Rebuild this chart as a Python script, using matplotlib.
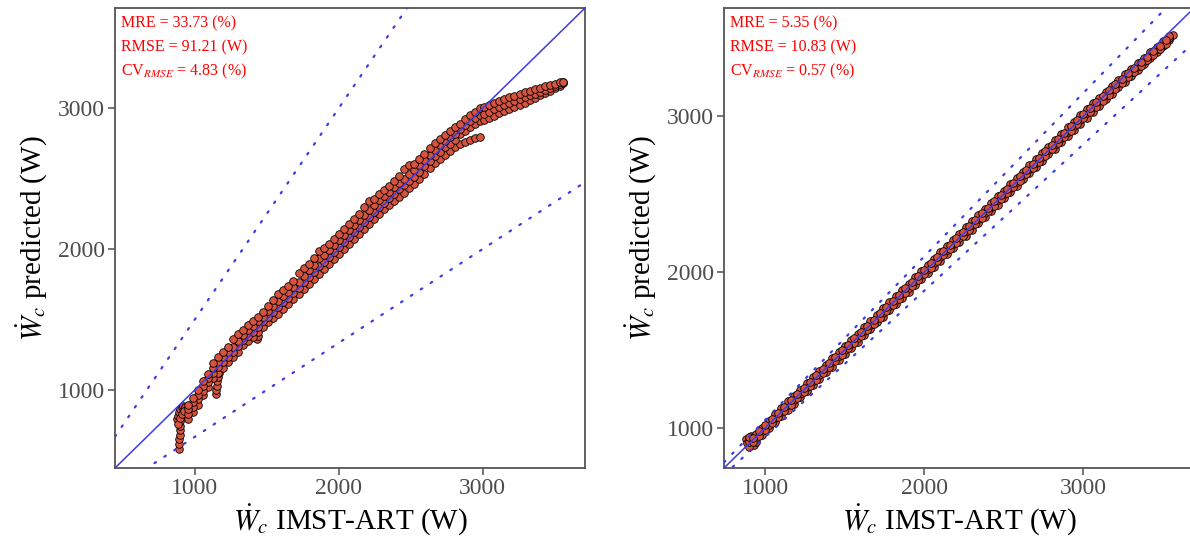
import matplotlib
matplotlib.use('Agg')
import matplotlib.pyplot as plt
import numpy as np

plt.rcParams['font.family'] = ['Liberation Serif', 'DejaVu Serif']
plt.rcParams['mathtext.fontset'] = 'stix'

# ---------------- data: left panel (model A) ----------------
left_x = [950, 985, 1020, 1055, 1090, 1125, 1160, 1195, 1230, 1265, 1300, 1335, 1370, 1405, 1440,
          1475, 1510, 1545, 1580, 1615, 1650, 1685, 1720, 1755, 1790, 1825, 1860, 1895, 1930, 1965,
          2000, 2035, 2070, 2105, 2140, 2175, 2210, 2245, 2280, 2315, 2350, 2385, 2420, 2455, 2490,
          2525, 2560, 2595, 2630, 2665, 2700, 2735, 2770, 2805, 2840, 2875, 2910, 2945, 2980]
left_pred_a = [790, 840, 895, 960, 1020, 1085, 1120, 1158, 1195, 1233, 1270, 1320, 1345, 1372, 1410,
               1448, 1480, 1510, 1537, 1573, 1608, 1645, 1680, 1715, 1750, 1787, 1822, 1858, 1895, 1930,
               1965, 2002, 2037, 2072, 2107, 2143, 2178, 2214, 2250, 2280, 2310, 2340, 2372, 2400, 2432,
               2463, 2496, 2535, 2572, 2608, 2640, 2670, 2697, 2720, 2742, 2760, 2775, 2785, 2795]
left_pred_b = [828, 876, 932, 995, 1052, 1120, 1160, 1196, 1232, 1270, 1308, 1356, 1385, 1412, 1448,
               1485, 1520, 1553, 1586, 1620, 1654, 1690, 1725, 1762, 1800, 1839, 1879, 1910, 1945, 1980,
               2014, 2051, 2086, 2121, 2157, 2193, 2228, 2263, 2299, 2329, 2359, 2390, 2422, 2451, 2482,
               2513, 2546, 2585, 2622, 2658, 2690, 2720, 2746, 2770, 2815, 2840, 2862, 2885, 2905]
left_pred_c = [862, 912, 966, 1028, 1085, 1155, 1196, 1235, 1270, 1305, 1345, 1392, 1424, 1450, 1485,
               1520, 1558, 1595, 1633, 1664, 1697, 1732, 1768, 1807, 1847, 1888, 1933, 1958, 1992, 2027,
               2061, 2097, 2132, 2168, 2204, 2240, 2275, 2310, 2345, 2375, 2405, 2436, 2469, 2499, 2529,
               2560, 2593, 2632, 2669, 2705, 2737, 2766, 2792, 2816, 2850, 2880, 2905, 2930, 2950]
left_pred_d = [895, 945, 1000, 1060, 1115, 1190, 1232, 1270, 1305, 1362, 1395, 1428, 1460, 1485, 1520,
               1555, 1595, 1635, 1678, 1705, 1738, 1772, 1830, 1868, 1892, 1935, 1985, 2005, 2038, 2072,
               2106, 2142, 2177, 2213, 2249, 2300, 2338, 2355, 2390, 2420, 2450, 2482, 2515, 2568, 2595,
               2605, 2638, 2677, 2714, 2750, 2783, 2812, 2838, 2862, 2888, 2920, 2950, 2975, 2998]
# start cluster and spurs
left_start_x = [889, 890, 892, 894, 896, 898, 900, 902, 904, 906, 876, 882, 890, 898, 908, 918,
                928, 938, 946, 884, 896, 910, 925, 1144, 1148, 1152, 1156, 1160, 1164, 1420, 1428, 1436]
left_start_y = [582, 615, 648, 680, 712, 745, 778, 810, 840, 865, 790, 815, 840, 862, 880, 888,
                878, 860, 842, 760, 800, 830, 850, 972, 1000, 1030, 1060, 1090, 1120, 1375, 1362, 1380]
# upper branch (high loads)
left_hi_x = [3010, 3045, 3080, 3115, 3150, 3185, 3220, 3255, 3290, 3325, 3360, 3395, 3430, 3465,
             3500, 3535, 3555]
left_hi_top = [3010, 3025, 3038, 3051, 3064, 3076, 3088, 3100, 3111, 3122, 3133, 3144, 3154, 3164,
               3174, 3182, 3188]
left_hi_mid = [2960, 2975, 2990, 3005, 3020, 3034, 3048, 3062, 3076, 3090, 3103, 3116, 3128, 3142,
               3155, 3168, 3182]
left_hi_low = [2915, 2930, 2945, 2962, 2978, 2993, 3008, 3022, 3038, 3055, 3072, 3090, 3106, 3124,
               3142, 3158, 3176]

# ---------------- data: right panel (model B) ----------------
right_x = [900, 940, 980, 1020, 1060, 1100, 1140, 1180, 1220, 1260, 1300, 1340, 1380, 1420, 1460,
           1500, 1540, 1580, 1620, 1660, 1700, 1740, 1780, 1820, 1860, 1900, 1940, 1980, 2020, 2060,
           2100, 2140, 2180, 2220, 2260, 2300, 2340, 2380, 2420, 2460, 2500, 2540, 2580, 2620, 2660,
           2700, 2740, 2780, 2820, 2860, 2900, 2940, 2980, 3020, 3060, 3100, 3140, 3180, 3220, 3260,
           3300, 3340, 3380, 3420, 3460, 3500, 3540]
right_pred_lo = [875, 905, 950, 995, 1035, 1075, 1115, 1150, 1195, 1235, 1272, 1312, 1355, 1392, 1432,
                 1475, 1512, 1552, 1595, 1632, 1675, 1712, 1752, 1795, 1832, 1872, 1915, 1952, 1990, 2032,
                 2072, 2112, 2152, 2195, 2232, 2272, 2312, 2355, 2392, 2432, 2475, 2512, 2552, 2595, 2632,
                 2672, 2712, 2755, 2792, 2832, 2872, 2912, 2950, 2990, 3030, 3068, 3108, 3145, 3185, 3222,
                 3260, 3298, 3335, 3372, 3410, 3448, 3488]
right_pred_mid = [910, 930, 975, 1018, 1062, 1098, 1145, 1176, 1218, 1262, 1298, 1338, 1382, 1418, 1462,
                  1498, 1542, 1577, 1620, 1658, 1702, 1738, 1780, 1818, 1862, 1897, 1942, 1978, 2018, 2060,
                  2098, 2142, 2178, 2220, 2258, 2302, 2338, 2380, 2418, 2462, 2498, 2540, 2578, 2620, 2658,
                  2700, 2738, 2780, 2818, 2860, 2900, 2938, 2978, 3018, 3058, 3095, 3135, 3172, 3210, 3248,
                  3285, 3320, 3356, 3392, 3430, 3466, 3502]
right_pred_hi = [940, 960, 1000, 1040, 1085, 1125, 1170, 1205, 1240, 1285, 1325, 1362, 1400, 1445, 1488,
                 1525, 1565, 1602, 1645, 1685, 1722, 1765, 1805, 1845, 1885, 1925, 1965, 2008, 2045, 2082,
                 2125, 2165, 2205, 2245, 2285, 2325, 2365, 2402, 2445, 2485, 2522, 2565, 2605, 2642, 2685,
                 2725, 2765, 2802, 2845, 2885, 2928, 2965, 3005, 3045, 3082, 3120, 3158, 3195, 3232, 3270,
                 3305, 3340, 3375, 3410, 3447, 3482, 3512]
right_x2 = [920, 960, 1000, 1040, 1080, 1120, 1160, 1200, 1240, 1280, 1320, 1360, 1400, 1440, 1480,
            1520, 1560, 1600, 1640, 1680, 1720, 1760, 1800, 1840, 1880, 1920, 1960, 2000, 2040, 2080,
            2120, 2160, 2200, 2240, 2280, 2320, 2360, 2400, 2440, 2480, 2520, 2560, 2600, 2640, 2680,
            2720, 2760, 2800, 2840, 2880, 2920, 2960, 3000, 3040, 3080, 3120, 3160, 3200, 3240, 3280,
            3320, 3360, 3400, 3440, 3480, 3520]
right_pred2_a = [905, 945, 985, 1027, 1066, 1108, 1146, 1187, 1226, 1268,
                 1306, 1348, 1386, 1428, 1466, 1508, 1546, 1587, 1626, 1668,
                 1706, 1748, 1786, 1828, 1866, 1908, 1946, 1988, 2026, 2068,
                 2106, 2148, 2186, 2228, 2266, 2308, 2346, 2388, 2426, 2468,
                 2506, 2548, 2586, 2628, 2666, 2708, 2746, 2788, 2826, 2868,
                 2906, 2948, 2986, 3025, 3062, 3100, 3138, 3176, 3212, 3250,
                 3286, 3322, 3358, 3394, 3430, 3466]
right_pred2_b = [935, 975, 1015, 1052, 1095, 1134, 1175, 1213, 1255, 1293,
                 1335, 1373, 1415, 1453, 1495, 1533, 1575, 1613, 1655, 1693,
                 1735, 1773, 1815, 1853, 1895, 1933, 1975, 2013, 2055, 2093,
                 2135, 2173, 2215, 2253, 2295, 2333, 2375, 2413, 2455, 2493,
                 2535, 2573, 2615, 2653, 2695, 2733, 2775, 2813, 2855, 2893,
                 2935, 2973, 3013, 3052, 3090, 3130, 3166, 3204, 3240, 3277,
                 3312, 3348, 3383, 3418, 3454, 3490]
right_start_x = [880, 885, 895, 910, 920, 930, 3560]
right_start_y = [925, 900, 935, 948, 915, 890, 3520]

# metrics and axis settings
left_metrics = ["MRE = 33.73 (%)", "RMSE = 91.21 (W)", r"CV$_{RMSE}$ = 4.83 (%)"]
right_metrics = ["MRE = 5.35 (%)", "RMSE = 10.83 (W)", r"CV$_{RMSE}$ = 0.57 (%)"]
left_lim = [445, 3710]
right_lim = [740, 3695]
left_ratios = [1.5, 1 / 1.5]
right_ratios = [1.05, 0.94]
ticks = [1000, 2000, 3000]

PT_FACE = '#d6533d'
LINE_C = '#3c3ce6'
GREY = '#4d4d4d'

fig = plt.figure(figsize=(11.9, 5.43), dpi=100)
ax1 = fig.add_axes([115 / 1190, 75 / 543, 470 / 1190, 460 / 543])
ax2 = fig.add_axes([724 / 1190, 75 / 543, 470 / 1190, 460 / 543])


def scatter(ax, x, y):
    ax.scatter(x, y, s=30, facecolor=PT_FACE, edgecolor='black', linewidths=0.6, zorder=2)


def style(ax, lim, ratios, metrics):
    xl = np.array(lim, dtype=float)
    ax.plot(xl, xl, color=LINE_C, lw=1.1, zorder=3)
    for r in ratios:
        ax.plot(xl, r * xl, color=LINE_C, lw=1.6, ls=(0, (0.8, 4.5)), zorder=3,
                dash_capstyle='round')
    ax.set_xlim(lim)
    ax.set_ylim(lim)
    ax.set_xticks(ticks)
    ax.set_yticks(ticks)
    ax.tick_params(axis='both', colors=GREY, labelsize=17, length=5, width=1.1, pad=2)
    for sp in ax.spines.values():
        sp.set_color('#555555')
        sp.set_linewidth(1.3)
    ax.set_xlabel(r'$\dot{W}_c$ IMST-ART (W)', fontsize=21, labelpad=3)
    ax.set_ylabel(r'$\dot{W}_c$ predicted (W)', fontsize=21, labelpad=6)
    for i, t in enumerate(metrics):
        ax.text(0.013, 0.966 - i * 0.052, t, transform=ax.transAxes, color='red',
                fontsize=11.5, va='center', ha='left')


scatter(ax1, left_start_x, left_start_y)
for track in (left_pred_a, left_pred_b, left_pred_c, left_pred_d):
    scatter(ax1, left_x, track)
for track in (left_hi_low, left_hi_mid, left_hi_top):
    scatter(ax1, left_hi_x, track)
style(ax1, left_lim, left_ratios, left_metrics)

scatter(ax2, right_start_x, right_start_y)
for track in (right_pred_lo, right_pred_mid, right_pred_hi):
    scatter(ax2, right_x, track)
for track in (right_pred2_a, right_pred2_b):
    scatter(ax2, right_x2, track)
style(ax2, right_lim, right_ratios, right_metrics)

fig.savefig('out.png', dpi=100)
